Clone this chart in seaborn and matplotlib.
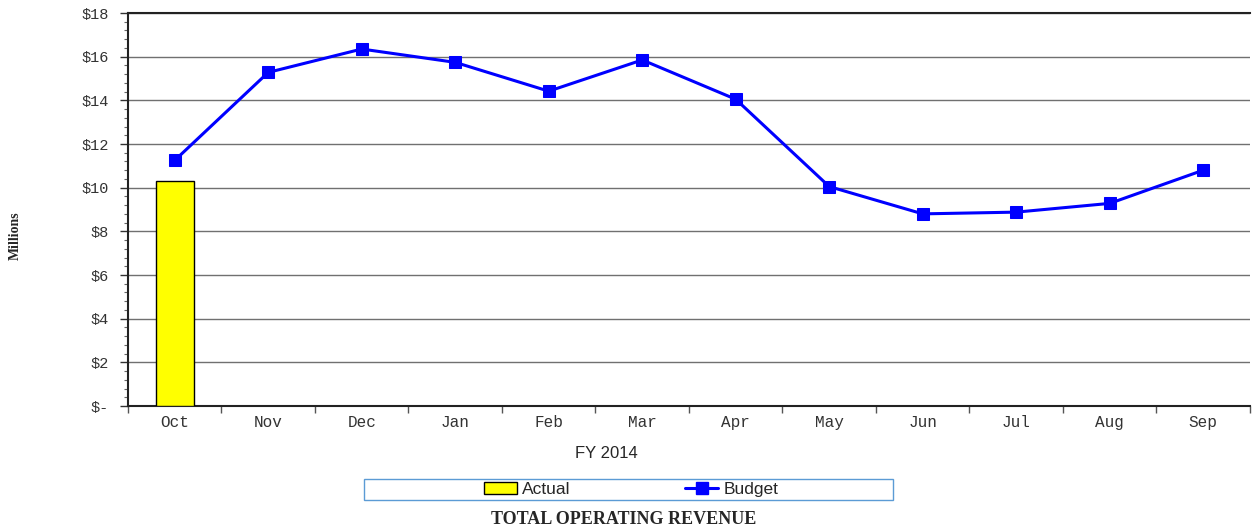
import numpy as np
import pandas as pd
import matplotlib
matplotlib.use("Agg")
import matplotlib.pyplot as plt
import seaborn as sns
from matplotlib.ticker import MultipleLocator, FixedLocator
from matplotlib.patches import Patch, Rectangle
from matplotlib.lines import Line2D

months = ["Oct", "Nov", "Dec", "Jan", "Feb", "Mar", "Apr", "May", "Jun", "Jul", "Aug", "Sep"]
actual = [10.31, np.nan, np.nan, np.nan, np.nan, np.nan, np.nan, np.nan, np.nan, np.nan, np.nan, np.nan]
budget = [11.25, 15.28, 16.35, 15.74, 14.42, 15.85, 14.05, 10.05, 8.80, 8.88, 9.28, 10.80]
yticks = [0, 2, 4, 6, 8, 10, 12, 14, 16, 18]
ytick_labels = ["$-", "$2", "$4", "$6", "$8", "$10", "$12", "$14", "$16", "$18"]

sns.set_style("white")
fig = plt.figure(figsize=(12.52, 5.31), dpi=100)
ax = fig.add_axes([0.1022, 0.2354, 0.8962, 0.7401])

df = pd.DataFrame({"month": months, "actual": actual, "budget": budget})
sns.barplot(data=df, x="month", y="actual", order=months, color="#ffff00",
            edgecolor="black", linewidth=1.0, width=0.41, saturation=1, ax=ax, zorder=3)
sns.lineplot(data=df, x="month", y="budget", sort=False, color="#0000ff", linewidth=2.2,
             marker="s", markersize=9, markeredgecolor="#0000ff", ax=ax, zorder=4)

ax.set_xlim(-0.5, 11.5)
ax.set_ylim(0, 18)
ax.set_yticks(yticks)
ax.set_yticklabels(ytick_labels, fontfamily="Liberation Mono", fontsize=11, color="#333333")
ax.yaxis.set_minor_locator(MultipleLocator(0.4))
ax.tick_params(axis="y", which="major", length=6, width=1, direction="out", left=True, color="#333333", pad=8)
ax.tick_params(axis="y", which="minor", length=3, width=0.8, direction="out", left=True, color="#666666")

ax.set_xticks(range(len(months)))
ax.set_xticklabels(months, fontfamily="Liberation Mono", fontsize=11.5, color="#333333")
ax.xaxis.set_minor_locator(FixedLocator(np.arange(-0.5, 12, 1)))
ax.tick_params(axis="x", which="major", length=0, pad=6.5)
ax.tick_params(axis="x", which="minor", length=5, width=1, direction="out", bottom=True, color="#555555")

ax.grid(axis="y", which="major", color="#707070", linewidth=1.0, zorder=0)
ax.set_axisbelow(True)
for s in ["left", "bottom", "top"]:
    ax.spines[s].set_visible(True)
    ax.spines[s].set_color("#222222")
    ax.spines[s].set_linewidth(1.5)
ax.spines["right"].set_visible(False)

ax.set_xlabel("")
ax.set_ylabel("")
fig.text(606 / 1252, 1 - 453 / 531, "FY 2014", fontfamily="Liberation Sans", fontsize=12,
         ha="center", va="center")
fig.text(0.012, 1 - 236 / 531, "Millions", rotation=90, fontfamily="Liberation Serif",
         fontweight="bold", fontsize=10, ha="center", va="center")

# legend frame
fig.patches.append(Rectangle((364 / 1252, 1 - 500 / 531), (893 - 364) / 1252, 21 / 531,
                             transform=fig.transFigure, facecolor="white",
                             edgecolor="#5b9bd5", linewidth=1.0, zorder=1))
handles = [Patch(facecolor="#ffff00", edgecolor="black", label="Actual"),
           Line2D([0], [0], color="#0000ff", linewidth=2.2, marker="s", markersize=8, label="Budget")]
leg = fig.legend(handles=handles, loc="center", bbox_to_anchor=(631 / 1252, 1 - 489.5 / 531), ncol=2,
                 frameon=False, prop={"family": "Liberation Sans", "size": 12.5},
                 columnspacing=6.6, handlelength=1.9, handletextpad=0.3, borderpad=0.1)
leg.set_zorder(2)

fig.text(624 / 1252, 1 - 519 / 531, "TOTAL OPERATING REVENUE", fontfamily="Liberation Serif",
         fontweight="bold", fontsize=13, ha="center", va="center")

fig.savefig("out.png", dpi=100)
